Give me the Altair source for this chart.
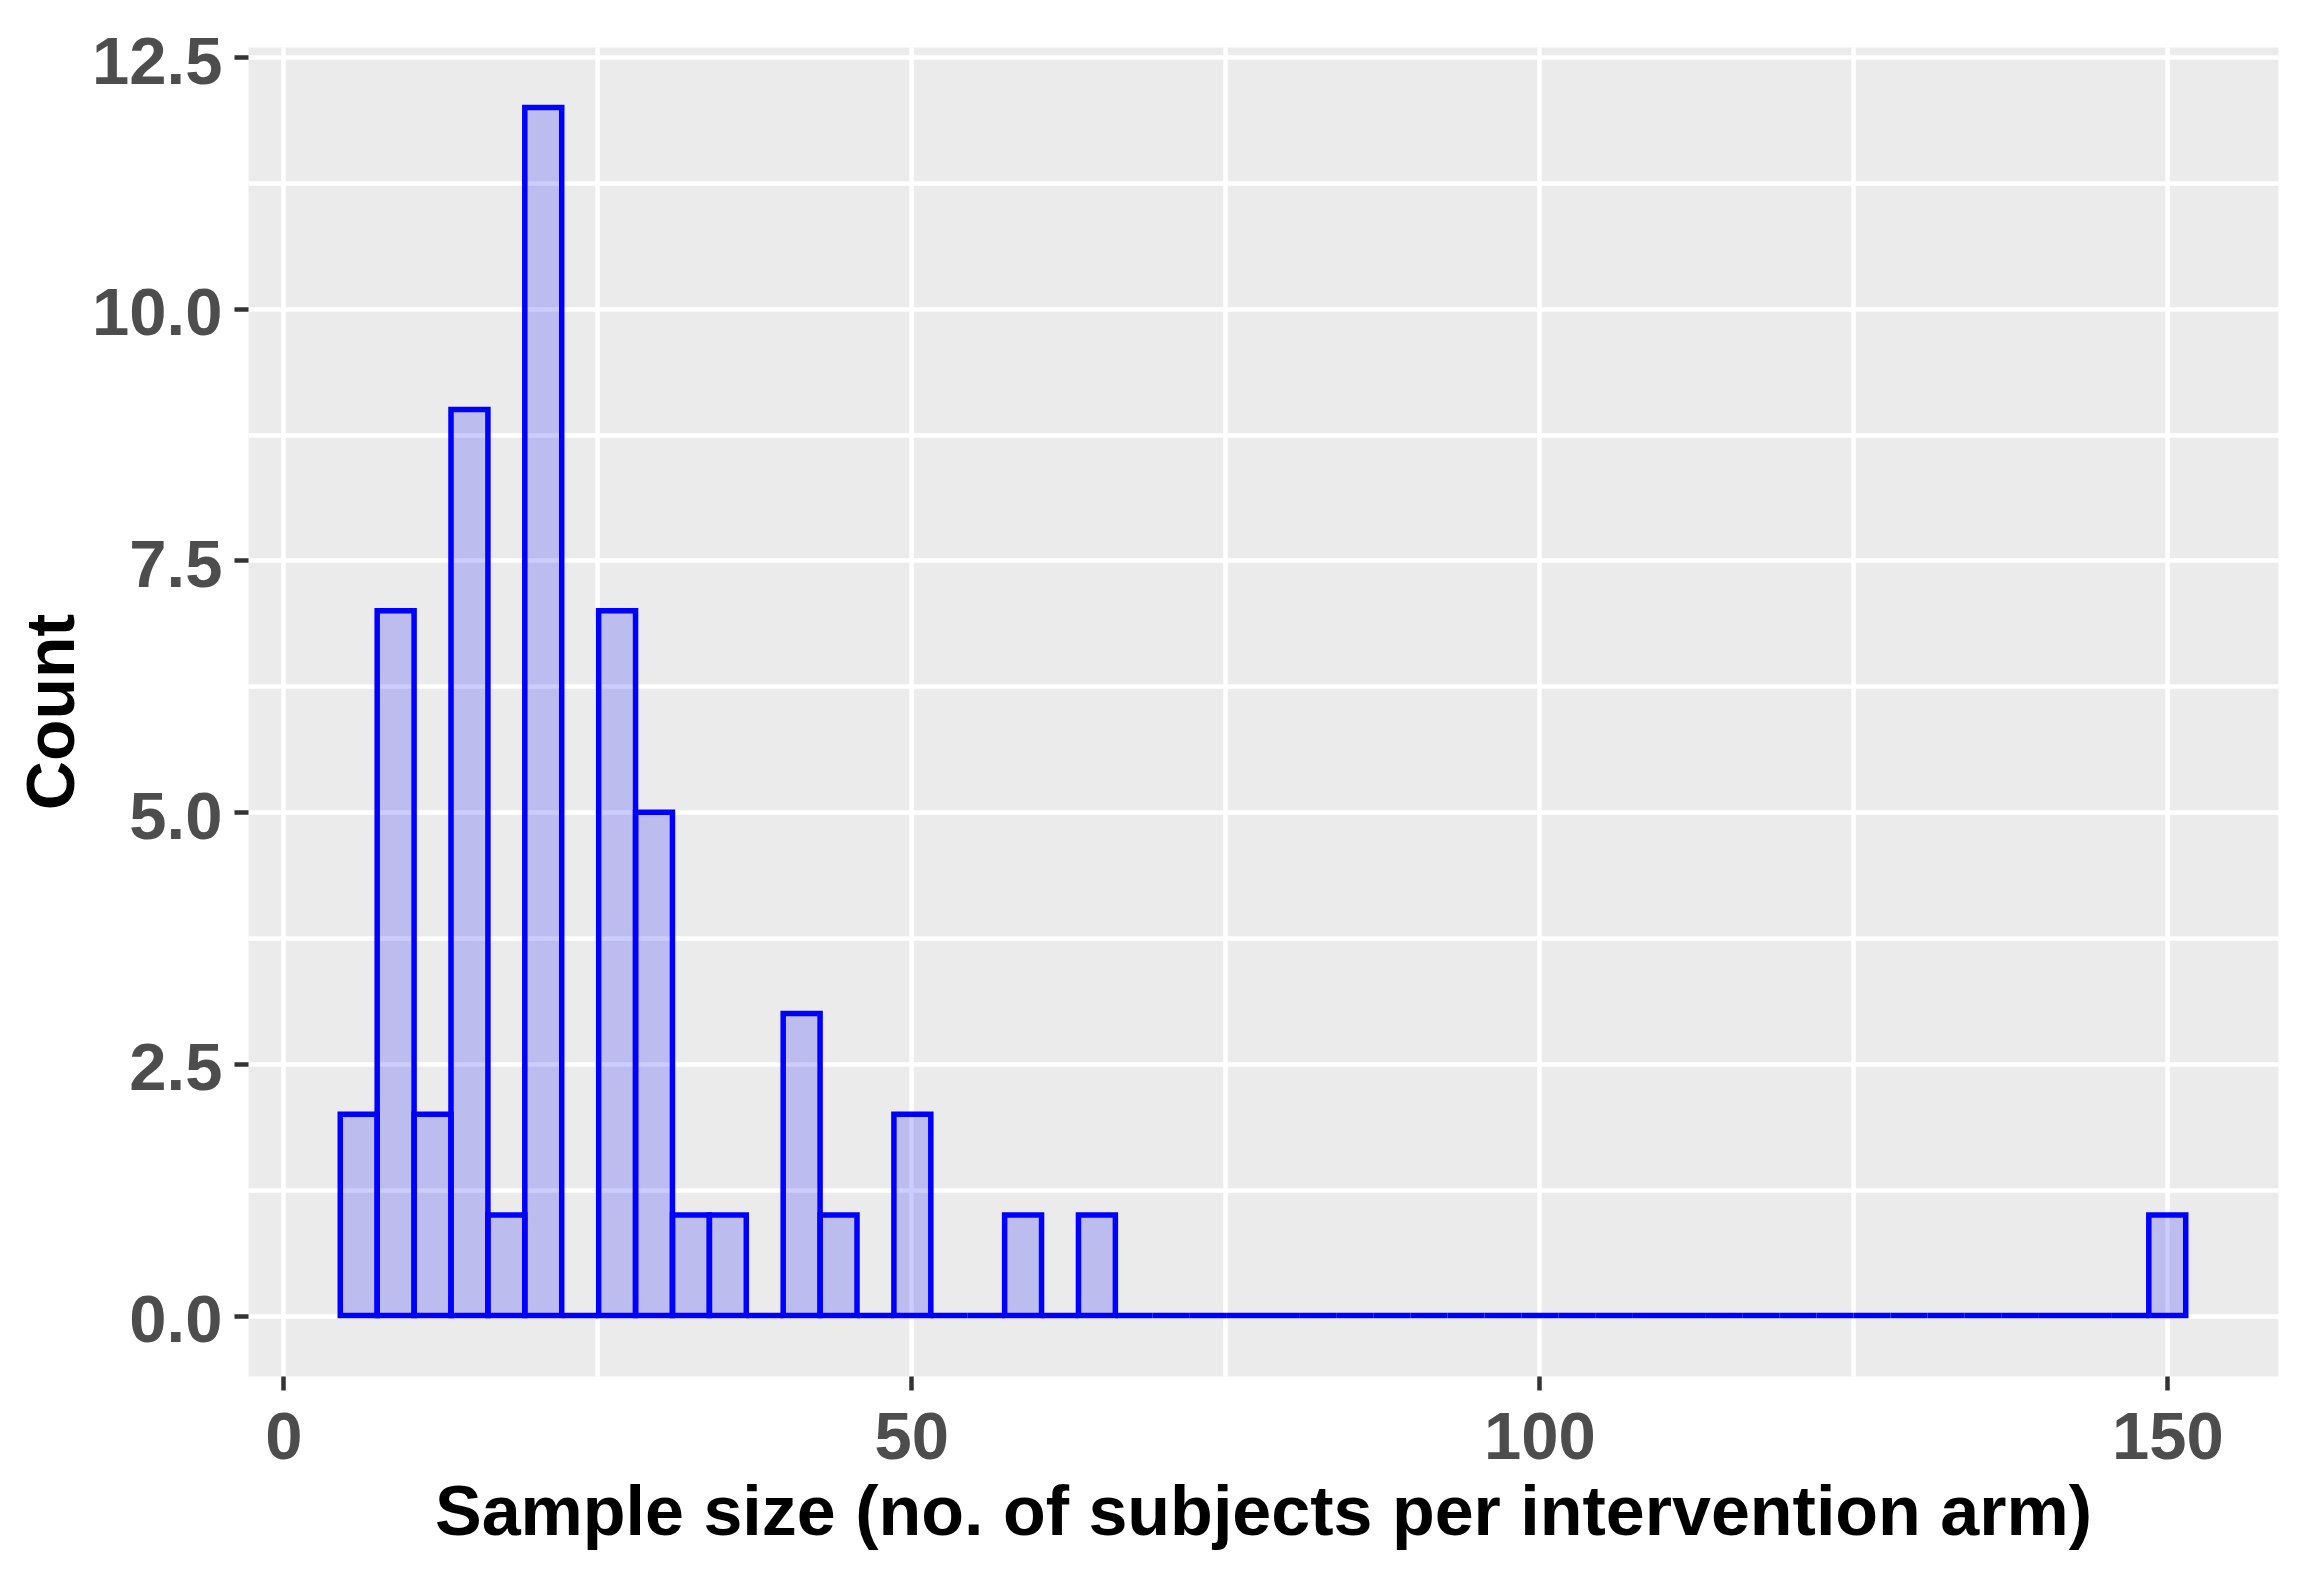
import altair as alt
import pandas as pd

# ---- data ----
sample_min = 6.0          # centre of the first bin
sample_max = 150.0        # centre of the last bin
n_bins = 50
bin_counts = [2, 7, 2, 9, 1, 12, 0, 7, 5, 1,
              1, 0, 3, 1, 0, 2, 0, 0, 1, 0,
              1, 0, 0, 0, 0, 0, 0, 0, 0, 0,
              0, 0, 0, 0, 0, 0, 0, 0, 0, 0,
              0, 0, 0, 0, 0, 0, 0, 0, 0, 1]
x_ticks = [0, 25, 50, 75, 100, 125, 150]
y_ticks = [0, 1.25, 2.5, 3.75, 5.0, 6.25, 7.5, 8.75, 10.0, 11.25, 12.5]
x_title = "Sample size (no. of subjects per intervention arm)"
y_title = "Count"

# ---- histogram table (ggplot-style bins centred on min and max) ----
bw = (sample_max - sample_min) / (n_bins - 1)
starts = [sample_min - bw / 2 + i * bw for i in range(n_bins)]
df = pd.DataFrame({
    "start": starts,
    "end": [s + bw for s in starts],
    "count": bin_counts,
})

lo, hi = starts[0], starts[-1] + bw
xpad = 0.05 * (hi - lo)
ypad = 0.05 * max(bin_counts)

FONT = "Liberation Sans"

x_axis = alt.Axis(
    values=x_ticks,
    title=x_title,
    format="d",
    labelExpr="datum.value % 50 === 0 ? datum.label : ''",
    tickOpacity={"condition": {"test": "datum.value % 50 === 0", "value": 1}, "value": 0},
    labelOverlap=False,
    labelFlush=False,
    labelPadding=15,
    titleY=158,
    titleBaseline="alphabetic",
    titleFontSize=70,
)
y_axis = alt.Axis(
    values=y_ticks,
    title=y_title,
    format=".1f",
    labelExpr="datum.value % 2.5 === 0 ? datum.label : ''",
    tickOpacity={"condition": {"test": "datum.value % 2.5 === 0", "value": 1}, "value": 0},
    labelOverlap=False,
    labelFlush=False,
    labelPadding=12,
    labelOffset=6,
    titleX=-175,
    titleBaseline="alphabetic",
)

chart = (
    alt.Chart(df)
    .mark_rect(fill="#0000FF", fillOpacity=0.2, stroke="#0000FF", strokeWidth=5.5)
    .encode(
        x=alt.X("start:Q", scale=alt.Scale(domain=[lo - xpad, hi + xpad], nice=False, zero=False), axis=x_axis),
        x2="end:Q",
        y=alt.Y("count:Q", scale=alt.Scale(domain=[-ypad, max(bin_counts) + ypad], nice=False, zero=False), axis=y_axis),
        y2=alt.datum(0),
    )
    .properties(
        width=2030,
        height=1329,
        autosize=alt.AutoSizeParams(type="none"),
        padding={"left": 240, "top": 39, "right": 30, "bottom": 190},
        background="white",
    )
    .configure_view(fill="#EBEBEB", stroke="transparent")
    .configure_axis(
        domain=False,
        grid=True,
        gridColor="white",
        gridWidth=4.5,
        tickColor="#333333",
        tickWidth=4.5,
        tickSize=14,
        labelFont=FONT,
        labelFontSize=67,
        labelFontWeight="bold",
        labelColor="#4D4D4D",
        titleFont=FONT,
        titleFontSize=68,
        titleFontWeight="bold",
        titleColor="black",
    )
)

chart.save("out.html", embed_options={"renderer": "svg", "actions": False})
